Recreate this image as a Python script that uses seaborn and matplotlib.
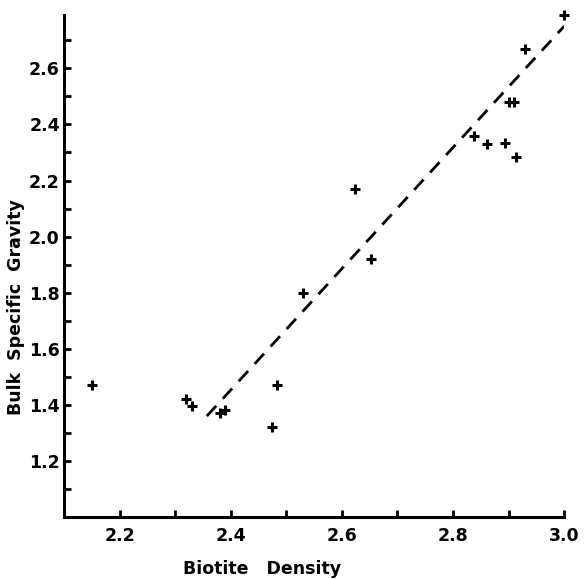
import numpy as np
import matplotlib
matplotlib.use("Agg")
import matplotlib.pyplot as plt
import seaborn as sns
from matplotlib.ticker import MultipleLocator

# --- DATA ---
biotite_density = [2.15, 2.32, 2.33, 2.38, 2.39, 2.475, 2.484, 2.53, 2.624, 2.653,
                   2.837, 2.862, 2.893, 2.913, 2.90, 2.91, 2.93, 3.00]
bulk_gravity = [1.47, 1.42, 1.395, 1.37, 1.38, 1.32, 1.47, 1.80, 2.17, 1.92,
                2.36, 2.33, 2.335, 2.285, 2.48, 2.48, 2.67, 2.79]

fit_x = [2.357, 3.0]
fit_y = [1.36, 2.75]

x_ticks = [2.2, 2.4, 2.6, 2.8, 3.0]
y_ticks = [1.2, 1.4, 1.6, 1.8, 2.0, 2.2, 2.4, 2.6]

# --- PLOT ---
sns.set_style("ticks")
plt.rcParams['font.family'] = ['DejaVu Sans']

fig = plt.figure(figsize=(5.87, 5.79), dpi=100)
ax = fig.add_axes([0.109, 0.107, 0.852, 0.867])

sns.scatterplot(x=biotite_density, y=bulk_gravity, marker='+', s=50,
                color='black', linewidth=2.2, ax=ax, clip_on=False, zorder=3)
sns.lineplot(x=fit_x, y=fit_y, color='black', linewidth=2,
             ax=ax, linestyle=(0, (5, 3.5)))

ax.set_xlim(2.1, 3.0)
ax.set_ylim(1.0, 2.79)
ax.set_xticks(x_ticks)
ax.set_yticks(y_ticks)
ax.set_xticklabels([f"{t:.1f}" for t in x_ticks])
ax.set_yticklabels([f"{t:.1f}" for t in y_ticks])
ax.xaxis.set_minor_locator(MultipleLocator(0.1))
ax.yaxis.set_minor_locator(MultipleLocator(0.1))
ax.tick_params(axis='both', which='both', direction='in', length=5, width=2,
               labelsize=12.5, colors='black')
ax.tick_params(axis='y', pad=3)
ax.tick_params(axis='x', pad=7)
for lbl in ax.get_xticklabels() + ax.get_yticklabels():
    lbl.set_fontweight('bold')

sns.despine(ax=ax)
for s in ['left', 'bottom']:
    ax.spines[s].set_linewidth(2.2)
    ax.spines[s].set_color('black')

ax.set_xlabel("Biotite   Density", fontsize=12.5, fontweight='bold', color='black')
ax.set_ylabel("Bulk  Specific  Gravity", fontsize=12.5, fontweight='bold', color='black')
ax.xaxis.set_label_coords(0.396, -0.085)
ax.yaxis.set_label_coords(-0.077, 0.418)

fig.savefig("out.png", dpi=100)
